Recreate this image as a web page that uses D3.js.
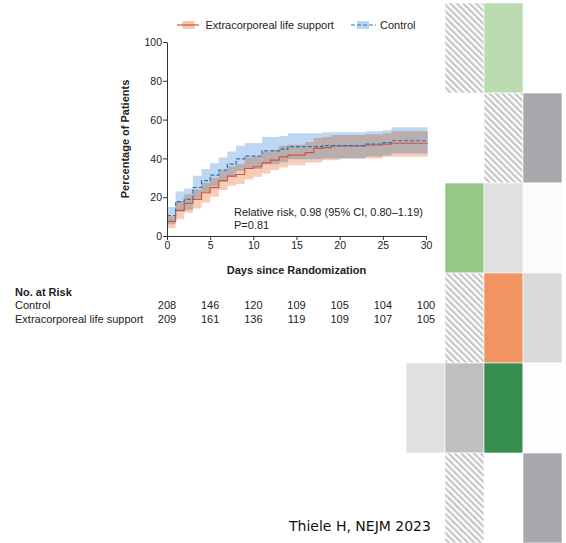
<!DOCTYPE html>
<html>
<head>
<meta charset="utf-8">
<script src="https://cdn.jsdelivr.net/npm/d3@7"></script>
<style>
  body { margin: 0; background: #fff; }
  svg { display: block; font-family: "Liberation Sans", Arial, sans-serif; }
</style>
</head>
<body>
<div id="app"></div>
<script>
// values read per day: value holds on [day, day + 1)
const days = d3.range(0, 30);
const xTicks = [0, 5, 10, 15, 20, 25, 30];
const yTicks = [0, 20, 40, 60, 80, 100];

const controlEst = [10.5, 17.7, 18.9, 25, 28.5, 31.4, 34, 37, 39.8, 41.2, 41.2, 43.9, 43.9, 44.8, 46.1,
  46.1, 46.1, 46.1, 46.6, 46.6, 46.6, 46.6, 46.6, 47.4, 47.4, 48.1, 49.1, 49.1, 49.1, 49.1];
const controlUpper = [15, 23, 24.5, 31, 34.5, 37.5, 40.5, 43.5, 46.5, 48, 48, 51, 51, 51.5, 53,
  53, 53, 53, 53.5, 53.5, 53.5, 53.5, 53.5, 54, 54, 54.5, 56, 56, 56, 56];
const controlLower = [6, 12.5, 13.5, 19.5, 22.5, 25.5, 28, 30.5, 33.5, 34.5, 34.5, 37, 37, 38, 39.5,
  39.5, 39.5, 39.5, 40, 40, 40, 40, 40, 41, 41, 41.5, 42.5, 42.5, 42.5, 42.5];

const eclsEst = [7.5, 13.2, 16.8, 18.9, 22.3, 24.9, 28.5, 30.9, 31.7, 34.8, 35.7, 37.7, 39.1, 40.8, 41.7,
  41.7, 43, 45.2, 45.6, 46.4, 46.4, 46.4, 46.4, 46.9, 46.9, 47.4, 47.8, 47.8, 47.8, 47.8];
const eclsUpper = [10, 18, 21.5, 24, 27.5, 30, 33.5, 36, 37, 40.5, 41, 43.5, 44.5, 46.5, 47,
  47, 48.5, 50.5, 51, 52, 52, 52, 52, 52.5, 52.5, 53, 54, 54, 54, 54];
const eclsLower = [4, 8.6, 12, 14.2, 17.2, 20.2, 23.7, 25.9, 26.8, 29.2, 30.5, 32.2, 34, 35.3, 36.5,
  36.5, 37.9, 37.9, 39.1, 39.1, 40, 40, 40, 40, 40, 40.8, 40.8, 40.8, 40.8, 40.8];

const riskLabels = ["Control", "Extracorporeal life support"];
const riskControl = [208, 146, 120, 109, 105, 104, 100];
const riskEcls = [209, 161, 136, 119, 109, 107, 105];

// decorative tiles on the right: [row, col, fill]
const tiles = [
  [0, 1, "hatch"], [0, 2, "#bddbb1"],
  [1, 2, "hatch"], [1, 3, "#a7a8ab"],
  [2, 1, "#95c886"], [2, 2, "#e0e0e0"], [2, 3, "#fbfbfb"],
  [3, 1, "hatch"], [3, 2, "#f29461"], [3, 3, "#dadada"],
  [4, 0, "#e0e0e0"], [4, 1, "#bebfc0"], [4, 2, "#368f4e"], [4, 3, "#fdfdfd"],
  [5, 1, "hatch"], [5, 3, "#a7a8ab"]
];

const W = 566, H = 543;
const svg = d3.select("#app").append("svg")
  .attr("width", W)
  .attr("height", H);

svg.append("rect").attr("width", W).attr("height", H).attr("fill", "#fff");

// hatch pattern
const defs = svg.append("defs");
defs.append("pattern")
  .attr("id", "hatch")
  .attr("patternUnits", "userSpaceOnUse")
  .attr("width", 4.5).attr("height", 4.5)
  .attr("patternTransform", "rotate(-45)")
  .call(p => p.append("rect").attr("width", 4.5).attr("height", 4.5).attr("fill", "#fff"))
  .call(p => p.append("rect").attr("width", 2.2).attr("height", 4.5).attr("fill", "#c6c6c6"));

const rowScale = d3.scaleBand().domain(d3.range(6)).range([3, 543]);
const colScale = d3.scaleBand().domain(d3.range(4)).range([406, 562]);

svg.append("g").selectAll("rect")
  .data(tiles)
  .join("rect")
  .attr("x", d => colScale(d[1]))
  .attr("y", d => rowScale(d[0]))
  .attr("width", colScale.bandwidth())
  .attr("height", rowScale.bandwidth())
  .attr("fill", d => d[2] === "hatch" ? "url(#hatch)" : d[2])
  .attr("stroke", "#fff")
  .attr("stroke-opacity", 0.6)
  .attr("stroke-width", 1);

// scales
const x = d3.scaleLinear().domain([0, 30]).range([167, 426]);
const y = d3.scaleLinear().domain([0, 100]).range([236, 42]);

const withEnd = arr => days.map((d, i) => ({ day: d, v: arr[i] }))
  .concat([{ day: 30.2, v: arr[arr.length - 1] }]);
const bandData = (lo, hi) => days.map((d, i) => ({ day: d, lo: lo[i], hi: hi[i] }))
  .concat([{ day: 30.2, lo: lo[lo.length - 1], hi: hi[hi.length - 1] }]);

const area = d3.area()
  .curve(d3.curveStepAfter)
  .x(d => x(d.day))
  .y0(d => y(d.lo))
  .y1(d => y(d.hi));

const line = d3.line()
  .curve(d3.curveStepAfter)
  .x(d => x(d.day))
  .y(d => y(d.v));

// CI bands, multiplied so the overlap turns mauve
const bands = svg.append("g").style("isolation", "isolate");
bands.append("path")
  .datum(bandData(controlLower, controlUpper))
  .attr("fill", "#bfd7f0")
  .attr("d", area);

bands.append("path")
  .datum(bandData(eclsLower, eclsUpper))
  .attr("fill", "#f7cdb9")
  .style("mix-blend-mode", "multiply")
  .attr("d", area);

// lines
svg.append("path")
  .datum(withEnd(eclsEst))
  .attr("fill", "none")
  .attr("stroke", "#d8523a")
  .attr("stroke-width", 1.2)
  .attr("d", line);

svg.append("path")
  .datum(withEnd(controlEst))
  .attr("fill", "none")
  .attr("stroke", "#1f78c1")
  .attr("stroke-width", 1.2)
  .attr("stroke-dasharray", "4,2")
  .attr("d", line);

// axes
const yAxis = svg.append("g")
  .attr("transform", `translate(${x(0)},0)`)
  .call(d3.axisLeft(y).tickValues(yTicks).tickSize(4).tickSizeOuter(0));

const xAxis = svg.append("g")
  .attr("transform", `translate(0,${y(0)})`)
  .call(d3.axisBottom(x).tickValues(xTicks).tickSize(4).tickSizeOuter(0));

[yAxis, xAxis].forEach(g => {
  g.select(".domain").attr("stroke", "#333");
  g.selectAll(".tick line").attr("stroke", "#333");
  g.selectAll(".tick text")
    .attr("fill", "#222")
    .style("font-family", "Liberation Sans, Arial, sans-serif")
    .style("font-size", "10.5px");
});
yAxis.selectAll(".tick text").attr("x", -5).attr("dy", "0.35em");
xAxis.selectAll(".tick text").attr("y", 6);

// axis titles
svg.append("text")
  .attr("transform", `translate(129,${y(50)}) rotate(-90)`)
  .attr("text-anchor", "middle")
  .attr("font-size", "11px")
  .attr("font-weight", "bold")
  .attr("fill", "#222")
  .text("Percentage of Patients");

svg.append("text")
  .attr("x", (x(0) + x(30)) / 2)
  .attr("y", 274)
  .attr("text-anchor", "middle")
  .attr("font-size", "11px")
  .attr("font-weight", "bold")
  .attr("fill", "#222")
  .text("Days since Randomization");

// annotation
svg.append("text")
  .attr("x", 234).attr("y", 216)
  .attr("font-size", "11px")
  .attr("fill", "#222")
  .text("Relative risk, 0.98 (95% CI, 0.80–1.19)");
svg.append("text")
  .attr("x", 234).attr("y", 229)
  .attr("font-size", "11px")
  .attr("fill", "#222")
  .text("P=0.81");

// legend
const legend = svg.append("g").attr("font-size", "11px").attr("fill", "#222");
legend.append("rect").attr("x", 182.5).attr("y", 21).attr("width", 12).attr("height", 8).attr("fill", "#f5c6b0");
legend.append("line").attr("x1", 177).attr("x2", 199).attr("y1", 25).attr("y2", 25)
  .attr("stroke", "#d8523a").attr("stroke-width", 1.2);
legend.append("text").attr("x", 205.5).attr("y", 28.5).text("Extracorporeal life support");

legend.append("rect").attr("x", 357).attr("y", 21).attr("width", 12).attr("height", 8).attr("fill", "#bcd5ee");
legend.append("line").attr("x1", 351).attr("x2", 376).attr("y1", 25).attr("y2", 25)
  .attr("stroke", "#1f78c1").attr("stroke-width", 1.2).attr("stroke-dasharray", "4,2");
legend.append("text").attr("x", 380).attr("y", 28.5).text("Control");

// number at risk table
const risk = svg.append("g").attr("font-size", "11px").attr("fill", "#222");
risk.append("text").attr("x", 15).attr("y", 296).attr("font-weight", "bold").text("No. at Risk");
risk.append("text").attr("x", 15).attr("y", 309).text(riskLabels[0]);
risk.append("text").attr("x", 15).attr("y", 322.5).text(riskLabels[1]);

risk.selectAll(".rc")
  .data(riskControl)
  .join("text")
  .attr("class", "rc")
  .attr("x", (d, i) => x(xTicks[i]))
  .attr("y", 309)
  .attr("text-anchor", "middle")
  .text(d => d);

risk.selectAll(".re")
  .data(riskEcls)
  .join("text")
  .attr("class", "re")
  .attr("x", (d, i) => x(xTicks[i]))
  .attr("y", 322.5)
  .attr("text-anchor", "middle")
  .text(d => d);

// source
svg.append("text")
  .attr("x", 289).attr("y", 531)
  .attr("font-family", "DejaVu Sans, sans-serif")
  .attr("font-size", "14px")
  .attr("fill", "#111")
  .text("Thiele H, NEJM 2023");
</script>
</body>
</html>
